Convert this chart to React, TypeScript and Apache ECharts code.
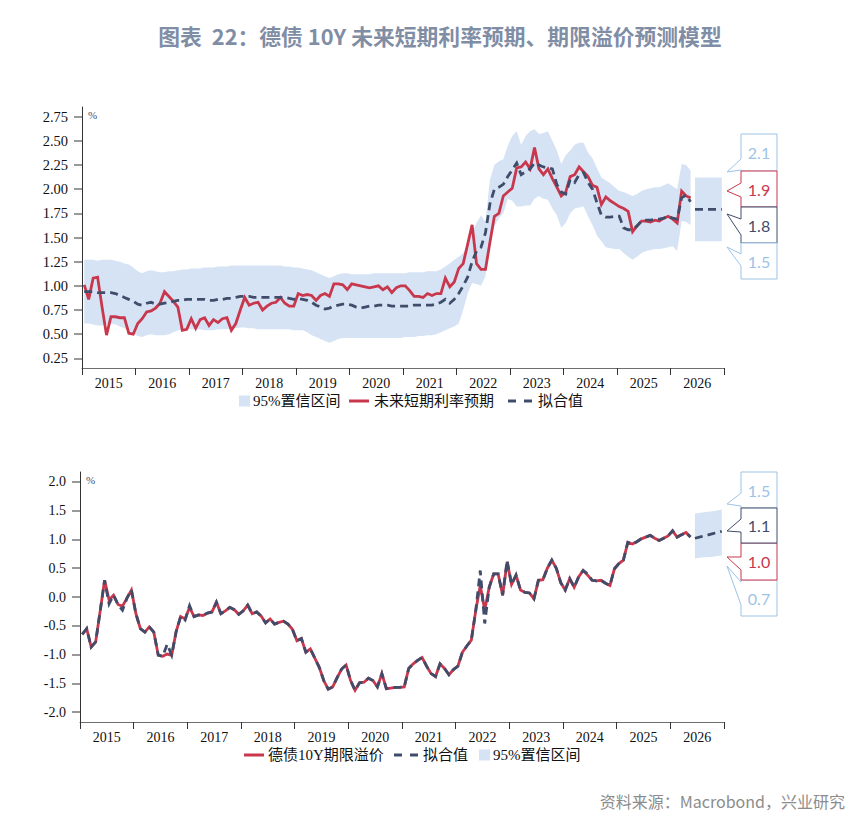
import { useEffect, useRef } from 'react';
import * as echarts from 'echarts';

// ---------- data ----------
const years = ['2015', '2016', '2017', '2018', '2019', '2020', '2021', '2022', '2023', '2024', '2025', '2026'];
const yearStartMonths = [0, 12, 24, 36, 48, 60, 72, 84, 96, 108, 120, 132, 144];
const yearMidMonths = [6, 18, 30, 42, 54, 66, 78, 90, 102, 114, 126, 138];
const topYTicks = [0.25, 0.5, 0.75, 1.0, 1.25, 1.5, 1.75, 2.0, 2.25, 2.5, 2.75];
const bottomYTicks = [-2.0, -1.5, -1.0, -0.5, 0.0, 0.5, 1.0, 1.5, 2.0];

// monthly, starting Jan 2015
const shortRateExp = [
  1.01, 0.86, 1.08, 1.09, 0.78, 0.49, 0.68, 0.68, 0.67, 0.67,
  0.51, 0.50, 0.61, 0.66, 0.73, 0.74, 0.77, 0.82, 0.94, 0.89,
  0.84, 0.78, 0.54, 0.55, 0.66, 0.56, 0.65, 0.67, 0.59, 0.65,
  0.62, 0.66, 0.67, 0.54, 0.61, 0.75, 0.88, 0.80, 0.82, 0.83,
  0.75, 0.79, 0.82, 0.83, 0.88, 0.82, 0.79, 0.79, 0.92, 0.90,
  0.91, 0.90, 0.85, 0.90, 0.92, 0.89, 1.02, 1.02, 1.01, 0.96,
  1.02, 1.01, 1.00, 0.99, 0.98, 0.99, 1.00, 0.96, 0.99, 0.93,
  0.98, 1.00, 1.00, 0.95, 0.89, 0.89, 0.88, 0.92, 0.90, 0.92,
  0.92, 1.08, 0.99, 1.04, 1.18, 1.23, 1.43, 1.63, 1.23, 1.17,
  1.17, 1.45, 1.72, 1.75, 1.93, 1.97, 2.01, 2.22, 2.23, 2.28,
  2.21, 2.43, 2.21, 2.15, 2.21, 2.11, 2.02, 1.93, 1.97, 2.13,
  2.15, 2.23, 2.18, 2.13, 2.04, 2.02, 1.84, 1.92, 1.88, 1.85,
  1.82, 1.80, 1.77, 1.56, 1.62, 1.67, 1.67, 1.66, 1.68, 1.67,
  1.70, 1.72, 1.69, 1.65, 1.98, 1.93, 1.91,
];
const shortRateFit = [
  0.94, 0.94, 0.94, 0.93, 0.93, 0.93, 0.93, 0.92, 0.90, 0.88,
  0.86, 0.84, 0.81, 0.80, 0.82, 0.83, 0.81, 0.81, 0.82, 0.83,
  0.84, 0.85, 0.85, 0.86, 0.86, 0.86, 0.86, 0.86, 0.85, 0.85,
  0.86, 0.86, 0.87, 0.87, 0.88, 0.89, 0.89, 0.89, 0.88, 0.88,
  0.88, 0.88, 0.88, 0.88, 0.88, 0.88, 0.87, 0.86, 0.87, 0.86,
  0.85, 0.83, 0.80, 0.78, 0.76, 0.77, 0.79, 0.80, 0.81, 0.81,
  0.80, 0.78, 0.77, 0.78, 0.79, 0.79, 0.80, 0.80, 0.80, 0.79,
  0.79, 0.79, 0.79, 0.79, 0.80, 0.80, 0.80, 0.80, 0.80, 0.81,
  0.83, 0.86, 0.82, 0.86, 0.92, 1.00, 1.09, 1.25, 1.36, 1.40,
  1.55, 1.85, 2.00, 2.02, 2.05, 2.13, 2.20, 2.27, 2.15, 2.18,
  2.21, 2.27, 2.25, 2.23, 2.22, 2.21, 2.05, 1.97, 1.95, 2.10,
  2.07, 2.15, 2.17, 2.07, 2.00, 1.86, 1.73, 1.71, 1.71, 1.72,
  1.72, 1.60, 1.58, 1.58, 1.62, 1.67, 1.68, 1.68, 1.69, 1.69,
  1.70, 1.72, 1.70, 1.69, 1.91, 1.94, 1.87,
];
const shortRateUpper = [
  1.27, 1.27, 1.27, 1.26, 1.27, 1.27, 1.27, 1.26, 1.25, 1.23,
  1.22, 1.19, 1.15, 1.13, 1.15, 1.16, 1.15, 1.14, 1.14, 1.15,
  1.15, 1.16, 1.17, 1.17, 1.18, 1.18, 1.18, 1.19, 1.19, 1.19,
  1.20, 1.20, 1.20, 1.21, 1.21, 1.21, 1.21, 1.21, 1.21, 1.21,
  1.21, 1.21, 1.21, 1.21, 1.21, 1.20, 1.20, 1.19, 1.19, 1.18,
  1.17, 1.16, 1.14, 1.12, 1.10, 1.08, 1.10, 1.12, 1.13, 1.13,
  1.12, 1.12, 1.12, 1.12, 1.12, 1.13, 1.13, 1.13, 1.13, 1.13,
  1.13, 1.13, 1.13, 1.14, 1.14, 1.14, 1.14, 1.15, 1.15, 1.15,
  1.17, 1.20, 1.23, 1.27, 1.30, 1.34, 1.42, 1.55, 1.65, 1.73,
  1.66, 2.10, 2.25, 2.29, 2.31, 2.45, 2.55, 2.60, 2.46, 2.55,
  2.60, 2.62, 2.57, 2.58, 2.60, 2.50, 2.40, 2.26, 2.35, 2.40,
  2.46, 2.48, 2.48, 2.38, 2.32, 2.22, 2.12, 2.09, 2.06, 2.02,
  1.98, 1.97, 1.95, 1.93, 1.95, 1.98, 2.00, 2.01, 2.02, 2.02,
  2.04, 2.06, 2.03, 2.00, 2.26, 2.25, 2.19,
];
const shortRateLower = [
  0.61, 0.61, 0.60, 0.59, 0.59, 0.60, 0.61, 0.60, 0.58, 0.56,
  0.54, 0.51, 0.48, 0.47, 0.49, 0.50, 0.49, 0.49, 0.49, 0.50,
  0.52, 0.54, 0.54, 0.55, 0.55, 0.55, 0.55, 0.54, 0.54, 0.54,
  0.55, 0.55, 0.55, 0.56, 0.56, 0.57, 0.57, 0.56, 0.56, 0.55,
  0.55, 0.55, 0.55, 0.55, 0.55, 0.55, 0.55, 0.54, 0.54, 0.54,
  0.52, 0.49, 0.47, 0.45, 0.43, 0.41, 0.43, 0.45, 0.46, 0.46,
  0.46, 0.46, 0.46, 0.46, 0.46, 0.46, 0.46, 0.46, 0.46, 0.46,
  0.46, 0.46, 0.47, 0.47, 0.47, 0.48, 0.48, 0.49, 0.49, 0.50,
  0.52, 0.54, 0.56, 0.58, 0.61, 0.75, 0.92, 1.03, 1.02, 1.00,
  1.10, 1.50, 1.62, 1.70, 1.75, 1.90, 1.88, 1.82, 1.82, 1.83,
  1.83, 1.90, 1.93, 1.90, 1.89, 1.80, 1.73, 1.60, 1.65, 1.75,
  1.80, 1.81, 1.82, 1.72, 1.63, 1.52, 1.46, 1.40, 1.39, 1.38,
  1.38, 1.34, 1.30, 1.27, 1.30, 1.34, 1.36, 1.37, 1.38, 1.38,
  1.39, 1.40, 1.41, 1.36, 1.67, 1.66, 1.63,
];
// forecast months (after history)
const shortRateFcFit = [1.79, 1.79, 1.79, 1.79, 1.79, 1.79, 1.79];
const shortRateFcUpper = [2.12, 2.12, 2.12, 2.12, 2.12, 2.12, 2.12];
const shortRateFcLower = [1.46, 1.46, 1.46, 1.46, 1.46, 1.46, 1.46];

const termPremium = [
  -0.65, -0.55, -0.87, -0.78, -0.25, 0.29, -0.05, 0.03, -0.13, -0.16,
  -0.02, 0.12, -0.29, -0.55, -0.61, -0.52, -0.61, -1.01, -1.03, -0.99,
  -1.01, -0.60, -0.34, -0.38, -0.18, -0.34, -0.31, -0.32, -0.28, -0.26,
  -0.09, -0.29, -0.24, -0.18, -0.22, -0.30, -0.24, -0.14, -0.29, -0.26,
  -0.33, -0.45, -0.38, -0.47, -0.44, -0.42, -0.47, -0.56, -0.76, -0.72,
  -0.96, -0.90, -1.06, -1.22, -1.45, -1.60, -1.56, -1.40, -1.25, -1.18,
  -1.45, -1.62, -1.49, -1.48, -1.41, -1.45, -1.56, -1.33, -1.59, -1.58,
  -1.57, -1.57, -1.56, -1.24, -1.16, -1.10, -1.05, -1.20, -1.33, -1.38,
  -1.16, -1.24, -1.35, -1.26, -1.20, -0.96, -0.85, -0.75, -0.23, 0.20,
  -0.23, 0.17, 0.40, 0.40, 0.03, 0.61, 0.22, 0.38, 0.12, 0.08,
  0.07, -0.03, 0.29, 0.30, 0.50, 0.64, 0.50, 0.25, 0.12, 0.32,
  0.17, 0.35, 0.46, 0.38, 0.29, 0.28, 0.29, 0.24, 0.20, 0.49,
  0.58, 0.64, 0.95, 0.92, 0.96, 1.01, 1.04, 1.07, 1.02, 0.98,
  1.02, 1.06, 1.15, 1.04, 1.08, 1.12, 1.04,
];
const termPremiumFit = [
  -0.65, -0.55, -0.87, -0.78, -0.25, 0.29, -0.12, 0.03, -0.13, -0.23,
  -0.02, 0.12, -0.29, -0.55, -0.61, -0.52, -0.61, -1.01, -1.03, -0.82,
  -1.01, -0.60, -0.34, -0.40, -0.15, -0.34, -0.31, -0.32, -0.28, -0.26,
  -0.09, -0.29, -0.24, -0.18, -0.22, -0.30, -0.24, -0.14, -0.29, -0.26,
  -0.33, -0.45, -0.38, -0.47, -0.44, -0.42, -0.47, -0.56, -0.76, -0.72,
  -0.96, -0.90, -1.06, -1.22, -1.45, -1.60, -1.56, -1.40, -1.25, -1.18,
  -1.45, -1.62, -1.49, -1.48, -1.41, -1.45, -1.56, -1.33, -1.59, -1.58,
  -1.57, -1.57, -1.56, -1.24, -1.16, -1.10, -1.05, -1.20, -1.33, -1.38,
  -1.16, -1.24, -1.35, -1.26, -1.20, -0.96, -0.85, -0.75, -0.23, 0.46,
  -0.46, 0.17, 0.40, 0.40, 0.03, 0.63, 0.22, 0.38, 0.12, 0.08,
  0.07, -0.03, 0.29, 0.30, 0.50, 0.64, 0.50, 0.25, 0.12, 0.32,
  0.17, 0.35, 0.46, 0.40, 0.29, 0.28, 0.29, 0.24, 0.20, 0.49,
  0.58, 0.64, 0.95, 0.92, 0.96, 1.01, 1.04, 1.07, 1.02, 0.98,
  1.02, 1.06, 1.15, 1.04, 1.08, 1.12, 1.04,
];
const termPremiumFcFit = [1.02, 1.04, 1.06, 1.08, 1.10, 1.12, 1.14];
const termPremiumFcUpper = [1.45, 1.46, 1.47, 1.48, 1.49, 1.50, 1.52];
const termPremiumFcLower = [0.67, 0.68, 0.69, 0.69, 0.70, 0.71, 0.72];

const topLegend = ['95%置信区间', '未来短期利率预期', '拟合值'];
const bottomLegend = ['德债10Y期限溢价', '拟合值', '95%置信区间'];
const titleText = '图表  22：德债 10Y 未来短期利率预期、期限溢价预测模型';
const sourceText = '资料来源：Macrobond，兴业研究';

// ---------- style ----------
const RED = '#c9374c';
const NAVY = '#3f4d6b';
const BAND = '#d6e3f4';
const LIGHT = '#9dc3e6';
const SERIF = '"Liberation Serif", "Times New Roman", serif';
const CJK = '"Liberation Serif", "Noto Sans CJK SC", sans-serif';

const FC_START = shortRateExp.length; // first forecast month index

const toPts = (arr: number[], start: number) => arr.map((v, i) => [start + i + 0.5, v]);

function xAxisCfg(gridIndex: number) {
  return {
    type: 'value',
    gridIndex,
    min: 0,
    max: 144,
    axisLine: { show: true, onZero: false, lineStyle: { color: '#6f6f6f', width: 1 } },
    axisTick: { show: true, length: 7, customValues: yearStartMonths, lineStyle: { color: '#333' } },
    axisLabel: {
      customValues: yearMidMonths,
      formatter: (v: number) => years[Math.round((v - 6) / 12)] ?? '',
      fontFamily: SERIF,
      fontSize: 14,
      color: '#111',
      margin: 8,
    },
    splitLine: { show: false },
  };
}

function yAxisCfg(gridIndex: number, min: number, max: number, ticks: number[], digits: number, fontSize: number) {
  return {
    type: 'value',
    gridIndex,
    min,
    max,
    axisLine: { show: true, onZero: false, lineStyle: { color: '#333', width: 1 } },
    axisTick: { show: true, length: 8, customValues: ticks, lineStyle: { color: '#777', width: 1.5 } },
    axisLabel: {
      customValues: ticks,
      formatter: (v: number) => v.toFixed(digits),
      fontFamily: SERIF,
      fontSize,
      color: '#111',
      margin: 14,
    },
    splitLine: { show: false },
  };
}

// confidence band drawn as one polygon through the axis scales
function bandSeries(name: string, axis: number, upper: number[], lower: number[], start: number) {
  const data = upper.map((u, i) => [start + i + 0.5, u, lower[i]]);
  return {
    name,
    type: 'custom',
    xAxisIndex: axis,
    yAxisIndex: axis,
    data,
    encode: { x: 0, y: [1, 2] },
    silent: true,
    z: 1,
    renderItem: (params: any, api: any) => {
      if (params.dataIndex !== 0) return null;
      const top = data.map((d) => api.coord([d[0], d[1]]));
      const bot = data.map((d) => api.coord([d[0], d[2]])).reverse();
      return {
        type: 'polygon',
        shape: { points: [...top, ...bot] },
        style: { fill: BAND, stroke: 'none' },
      };
    },
  };
}

function lineSeries(name: string, axis: number, data: number[], start: number, color: string, dashed: boolean, z: number) {
  return {
    name,
    type: 'line',
    xAxisIndex: axis,
    yAxisIndex: axis,
    data: toPts(data, start),
    symbol: 'none',
    lineStyle: { color, width: 2.8, type: dashed ? [8, 5] : 'solid', cap: 'butt', join: 'miter' },
    z,
  };
}

function text(t: string, x: number, y: number, opts: any = {}) {
  return {
    type: 'text',
    x,
    y,
    silent: true,
    z: 10,
    style: {
      text: t,
      fill: opts.fill ?? '#111',
      fontSize: opts.fontSize ?? 15,
      fontFamily: opts.fontFamily ?? CJK,
      fontWeight: opts.fontWeight ?? 'normal',
      textAlign: opts.align ?? 'left',
      align: opts.align ?? 'left',
      textVerticalAlign: 'middle',
      verticalAlign: 'middle',
    },
  };
}

function callout(y0: number, y1: number, a: number, b: number, tipY: number, color: string, label: string) {
  const x0 = 741;
  const x1 = 777;
  const tipX = 727;
  return {
    type: 'group',
    children: [
      {
        type: 'polygon',
        shape: { points: [[x0, y0], [x1, y0], [x1, y1], [x0, y1], [x0, b], [tipX, tipY], [x0, a]] },
        style: { fill: '#fff', stroke: color, lineWidth: 1 },
      },
      text(label, (x0 + x1) / 2, (y0 + y1) / 2, { fill: color, fontSize: 16, fontFamily: 'Lato, "Noto Sans", sans-serif', align: 'center' }),
    ],
  };
}

function legendBlocks(y: number, items: { kind: string; x: number; tx: number; label: string }[]) {
  const out: any[] = [];
  items.forEach((it) => {
    if (it.kind === 'band') {
      out.push({ type: 'rect', shape: { x: it.x, y: y - 5.5, width: 11, height: 11 }, style: { fill: BAND } });
    } else if (it.kind === 'red') {
      out.push({ type: 'line', shape: { x1: it.x, y1: y, x2: it.x + 20, y2: y }, style: { stroke: RED, lineWidth: 3 } });
    } else {
      out.push({ type: 'line', shape: { x1: it.x, y1: y, x2: it.x + 8, y2: y }, style: { stroke: NAVY, lineWidth: 3 } });
      out.push({ type: 'line', shape: { x1: it.x + 16, y1: y, x2: it.x + 24, y2: y }, style: { stroke: NAVY, lineWidth: 3 } });
    }
    out.push(text(it.label, it.tx, y, { fontSize: 15 }));
  });
  return out;
}

export default function App() {
  const ref = useRef<HTMLDivElement>(null);

  useEffect(() => {
    if (!ref.current) return;
    const chart = echarts.init(ref.current, undefined, { renderer: 'svg' });

    const last1 = (arr: number[]) => arr[arr.length - 1].toFixed(1);

    const option: any = {
      animation: false,
      backgroundColor: '#fff',
      grid: [
        { left: 82, top: 107, width: 642, height: 261 },
        { left: 80, top: 472, width: 644, height: 250 },
      ],
      xAxis: [xAxisCfg(0), xAxisCfg(1)],
      yAxis: [
        yAxisCfg(0, 0.15, 2.85, topYTicks, 2, 14.5),
        yAxisCfg(1, -2.17, 2.17, bottomYTicks, 1, 14),
      ],
      series: [
        bandSeries(topLegend[0], 0, shortRateUpper, shortRateLower, 0),
        bandSeries(topLegend[0], 0, shortRateFcUpper, shortRateFcLower, FC_START),
        lineSeries(topLegend[1], 0, shortRateExp, 0, RED, false, 3),
        lineSeries(topLegend[2], 0, shortRateFit, 0, NAVY, true, 4),
        lineSeries(topLegend[2], 0, shortRateFcFit, FC_START, NAVY, true, 4),
        bandSeries(bottomLegend[2], 1, termPremiumFcUpper, termPremiumFcLower, FC_START),
        lineSeries(bottomLegend[0], 1, termPremium, 0, RED, false, 3),
        lineSeries(bottomLegend[1], 1, termPremiumFit, 0, NAVY, true, 4),
        lineSeries(bottomLegend[1], 1, termPremiumFcFit, FC_START, NAVY, true, 4),
      ],
      graphic: [
        text(titleText, 440, 35, { fill: '#7f8da5', fontSize: 21.8, fontWeight: 'bold', fontFamily: '"Noto Sans CJK SC", sans-serif', align: 'center' }),
        text(sourceText, 845, 801, { fill: '#8c8c8c', fontSize: 16, fontFamily: '"Noto Sans CJK SC", sans-serif', align: 'right' }),
        text('%', 88, 115, { fill: NAVY, fontSize: 11, fontFamily: SERIF }),
        text('%', 86, 480, { fill: NAVY, fontSize: 11, fontFamily: SERIF }),
        ...legendBlocks(401, [
          { kind: 'band', x: 239, tx: 253, label: topLegend[0] },
          { kind: 'red', x: 349, tx: 374, label: topLegend[1] },
          { kind: 'dash', x: 508, tx: 538, label: topLegend[2] },
        ]),
        ...legendBlocks(755, [
          { kind: 'red', x: 244, tx: 268, label: bottomLegend[0] },
          { kind: 'dash', x: 394, tx: 423, label: bottomLegend[1] },
          { kind: 'band', x: 479, tx: 493, label: bottomLegend[2] },
        ]),
        // top chart value callouts
        callout(134, 171, 159, 170, 172, LIGHT, last1(shortRateFcUpper)),
        callout(171, 207, 183, 197, 191, RED, last1(shortRateExp)),
        callout(207, 243, 219, 235, 214, NAVY, last1(shortRateFcFit)),
        callout(243, 279, 254, 266, 247, LIGHT, last1(shortRateFcLower)),
        // bottom chart value callouts
        callout(472, 508, 493, 506, 504, LIGHT, last1(termPremiumFcUpper)),
        callout(580, 616, 582, 605, 566, LIGHT, last1(termPremiumFcLower)),
        callout(543, 580, 557, 570, 557, RED, last1(termPremium)),
        callout(508, 543, 519, 532, 531, NAVY, last1(termPremiumFcFit)),
      ],
    };

    chart.setOption(option);
    return () => chart.dispose();
  }, []);

  return <div ref={ref} style={{ position: 'fixed', left: 0, top: 0, width: 866, height: 830, background: '#fff' }} />;
}
